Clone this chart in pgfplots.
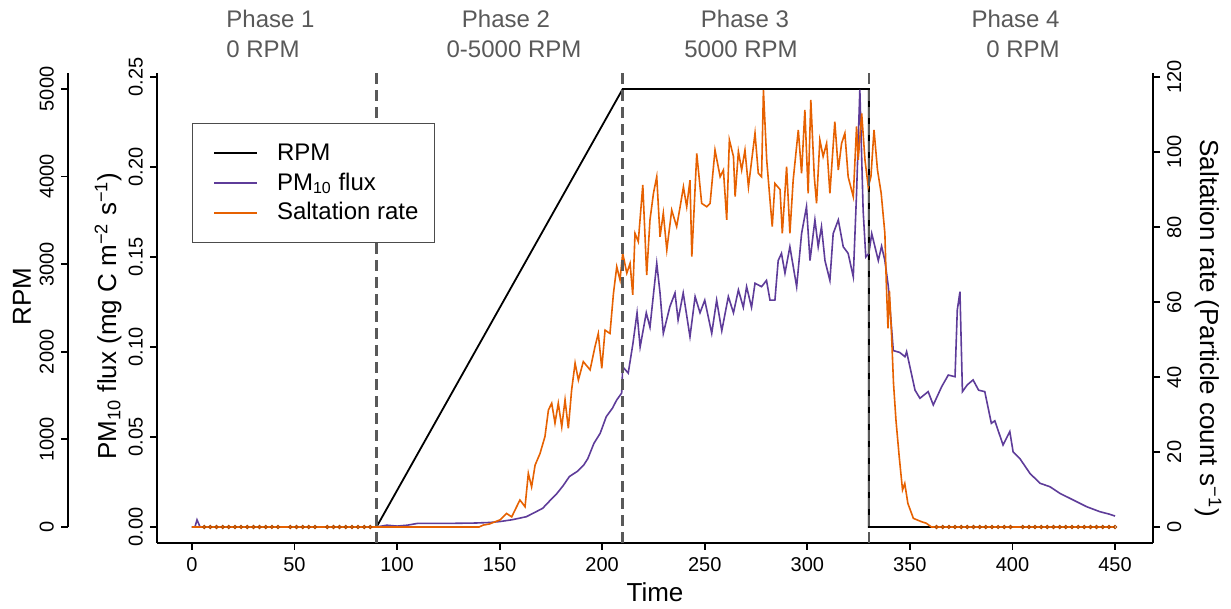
\documentclass[border=0pt]{standalone}
\usepackage{fontspec}
\setmainfont{Liberation Sans}
\usepackage{pgfplots}
\pgfplotsset{compat=1.18}

\definecolor{pmc}{HTML}{5E3C99}
\definecolor{slc}{HTML}{E66101}
\definecolor{phc}{HTML}{595959}

\newcommand{\lblfont}{\fontsize{13}{15}\selectfont}
\newcommand{\tckfont}{\fontsize{10}{12}\selectfont}

% shared frame: 1px of the reference = 0.5pt
\pgfplotsset{
  base/.style={
    scale only axis, width=498pt, height=235pt,
    at={(78.5pt,33pt)}, anchor=south west,
    xmin=-17, xmax=468.5,
    tick align=outside, major tick length=3.5pt,
    axis line style={line width=0.9pt},
    every tick/.style={black, line width=0.9pt},
    tick label style={font=\tckfont},
    /pgf/number format/assume math mode=true,
  },
}

\begin{document}
\begin{tikzpicture}
\useasboundingbox (0,0) rectangle (615.5pt,304.5pt);

% RPM scale, offset to the far left
\begin{axis}[
  scale only axis, width=1pt, height=227pt,
  at={(34pt,41pt)}, anchor=south west,
  xmin=0, xmax=1, ymin=0, ymax=5182.6,
  hide x axis, axis y line*=left,
  tick align=outside, major tick length=3.5pt,
  axis line style={line width=0.9pt},
  every tick/.style={black, line width=0.9pt},
  ytick={0,1000,2000,3000,4000,5000},
  yticklabel style={font=\tckfont, rotate=90, anchor=south,
    /pgf/number format/1000 sep={}},
  /pgf/number format/assume math mode=true,
  every axis y label/.style={at={(rel axis cs:0,0.507)}, xshift=-23pt,
    rotate=90, anchor=center, font=\lblfont},
  ylabel={RPM},
]
\end{axis}

% RPM trace
\begin{axis}[base, hide x axis, hide y axis, ymin=-182.6, ymax=5182.6]
\addplot[black, line width=0.9pt] coordinates {
(0,0) (90,0) (210,5000) (330,5000) (330,0) (450,0)};
\end{axis}

% PM10 flux
\begin{axis}[base,
  axis x line*=bottom, axis y line*=left,
  ymin=-0.00889, ymax=0.25222,
  xtick={0,50,100,150,200,250,300,350,400,450},
  ytick={0,0.05,0.1,0.15,0.2,0.25},
  yticklabel style={/pgf/number format/fixed, /pgf/number format/fixed zerofill,
    /pgf/number format/precision=2, rotate=90, anchor=south},
  every axis x label/.style={at={(rel axis cs:0.5,-0.104)}, anchor=center, font=\lblfont},
  every axis y label/.style={at={(rel axis cs:-0.0492,0.483)}, rotate=90,
    anchor=center, font=\lblfont},
  xlabel={Time},
  ylabel={PM\textsubscript{10} flux (mg C m\textsuperscript{−2} s\textsuperscript{−1})},
]
\addplot[pmc, line width=0.8pt] coordinates {
(0,0) (1.5,0) (2.5,0.004) (4,0) (90,0) (95,0.001) (100,0.0005) (105,0.001)
(110,0.002) (125,0.002) (138,0.0022) (145,0.0025) (150,0.003) (156,0.004)
(163,0.0057) (167,0.008) (171,0.0104) (174,0.014) (178,0.0187) (181,0.023)
(184,0.028) (188,0.031) (191,0.0344) (193,0.038) (196,0.0465) (199,0.052)
(202,0.0613) (205,0.066) (207,0.0704) (209.5,0.0744) (210,0.089) (212.7,0.0855)
(215,0.102) (217,0.119) (218.5,0.100) (221.5,0.119) (223.3,0.111) (226.6,0.1465)
(228.2,0.13) (229.8,0.1076) (233,0.1224) (235.5,0.13) (237,0.115) (239.5,0.13)
(242.8,0.1057) (245.3,0.128) (247.7,0.119) (250,0.126) (253.4,0.1076)
(255.8,0.126) (258.3,0.109) (261.5,0.128) (264,0.119) (266.4,0.1317)
(268.8,0.122) (270.4,0.1335) (272.8,0.122) (274.5,0.1354) (277.7,0.1335)
(280.1,0.137) (281.8,0.126) (284.2,0.126) (285.8,0.148) (287.4,0.152)
(289.1,0.141) (291.5,0.1557) (294.8,0.1335) (297.2,0.163) (299.6,0.178)
(301.3,0.148) (303.7,0.1706) (305.3,0.1557) (306.9,0.1668) (308.6,0.148)
(311,0.137) (312.6,0.163) (315.1,0.1706) (317.5,0.1557) (319.9,0.152)
(322.4,0.139) (324,0.1855) (325.6,0.243) (327.2,0.176) (328.5,0.150)
(330,0.152) (331.4,0.163) (334.6,0.148) (336.2,0.156) (337.8,0.148)
(339.5,0.1335) (341.9,0.098) (345,0.097) (347.6,0.0946) (348.4,0.0974)
(352.5,0.076) (354.9,0.0715) (358.9,0.0752) (361.4,0.0678) (365.5,0.078)
(368.7,0.0844) (372,0.0835) (373.1,0.1206) (374.4,0.1307) (375.6,0.0752)
(378,0.079) (380.8,0.0817) (383.5,0.076) (386.5,0.0752) (389.7,0.0576)
(391.4,0.059) (395.4,0.0456) (398.7,0.053) (400.3,0.0418) (403.6,0.038)
(408.5,0.0298) (413.4,0.0243) (418.2,0.0224) (423.1,0.0187) (429.6,0.015)
(436.1,0.0113) (442.6,0.0085) (447,0.0072) (450,0.0061)};
\end{axis}

% saltation rate, phase boundaries and the legend (drawn last)
\begin{axis}[base,
  axis x line=none, axis y line*=right,
  ymin=-4.267, ymax=121.07,
  ytick={0,20,40,60,80,100,120},
  yticklabel style={rotate=90, anchor=north},
  every axis y label/.style={at={(rel axis cs:1.0552,0.457)}, rotate=-90,
    anchor=center, font=\lblfont},
  ylabel={Saltation rate (Particle count s\textsuperscript{−1})},
  legend cell align=left,
  legend style={at={(rel axis cs:0.0351,0.8936)}, anchor=north west,
    draw=black!70, line width=0.6pt, fill=white,
    inner xsep=6pt, inner ysep=8pt, row sep=0.75pt,
    font=\fontsize{12}{14}\selectfont,
    /tikz/every odd column/.append style={column sep=7.5pt},
    /tikz/every even column/.append style={inner xsep=0pt}},
  legend image code/.code={\path (0pt,0pt); \draw[#1, line width=0.9pt] (4.5pt,0pt) -- (26pt,0pt);},
]
\addlegendimage{black}\addlegendentry{RPM}
\addlegendimage{pmc}\addlegendentry{PM\textsubscript{10} flux}
\addlegendimage{slc}\addlegendentry{Saltation rate}

\addplot[slc, line width=0.8pt, forget plot] coordinates {
(0,0) (90,0) (140,0) (142,0.5) (145,0.8) (150.2,1.9) (153.4,3.6) (155.9,2.7)
(159.9,7.2) (162.4,5.4) (164,14.3) (165.6,10.7) (167.3,16.5) (169.7,19.6)
(172.1,24.1) (173.8,31.2) (175.4,33) (177,27.7) (178.6,33) (180.3,26.7)
(181.9,33.9) (183.5,26.3) (185.1,36.5) (186.8,43.7) (188.4,39.2) (190.8,44.1)
(194.1,41.9) (196.5,48.1) (198.1,51.6) (199.8,42.3) (201.4,52.5) (203.8,51.6)
(205.5,62.3) (207.1,69.4) (208.7,65.9) (210,73) (212,67.7) (213.6,70.3)
(214.9,61.9) (216,78.3) (217.6,76.1) (219.8,91.2) (221.7,67.2) (223.3,81.9)
(225,89) (226.6,93.4) (228.2,77.4) (229.8,83.7) (231.5,73.9) (233.9,84.5)
(236.3,80.1) (238,85.4) (239.6,90.7) (241.2,85.4) (242.8,92.5) (243.7,72.1)
(246.1,99.6) (248.5,86.3) (251,85.4) (252.6,86.3) (255,100.5) (257.5,93.4)
(259.1,95.2) (260.7,81.9) (262,103.2) (264,98.8) (264.8,88.1) (266.4,100.1)
(268,95.2) (269.6,100.5) (271.3,90.7) (272.9,97.9) (274.5,105) (276.1,94.3)
(277.7,93.4) (278.6,116.5) (280.2,97.9) (281.8,87.2) (282.9,80.1) (284.2,91.6)
(286.7,90) (287.8,78.3) (289.9,96.1) (291.5,78.3) (293.1,92.5) (295.6,105.9)
(297.2,94.3) (298.8,111.2) (300.4,89) (301.7,113.9) (303.4,93.4) (304.5,86.3)
(306.1,103.2) (307.7,98.8) (309.4,102.3) (311,89) (313.4,108.1) (315.1,95.2)
(316.7,102.3) (318.3,105) (319.9,93.4) (322.4,88.1) (324,106.8) (324.8,97.9)
(326.5,110.3) (328.1,97.9) (329.7,90.7) (331,93.4) (332.5,105.9) (334.2,95.2)
(336,89) (337.8,78.3) (338.5,65) (339.3,53) (340,63) (341,52) (342,38.4)
(343.2,28.5) (344.8,18.7) (346.4,9.9) (347.5,11.6) (349,6.3) (351.7,2.3)
(355.7,1.4) (358,1.0) (360.5,0) (450,0)};
\addplot[only marks, mark=o, mark size=0.9pt, slc!75!black,
  mark options={line width=0.4pt}, forget plot] coordinates {
(6,0) (9,0) (12,0) (15,0) (18,0) (21,0) (24,0) (27,0) (30,0) (33,0) (36,0)
(39,0) (42,0) (48,0) (51,0) (54,0) (57,0) (60,0) (66,0) (69,0) (72,0) (75,0)
(78,0) (81,0) (84,0) (87,0)
(363,0) (366,0) (369,0) (372,0) (375,0) (378,0) (381,0) (384,0) (387,0)
(390,0) (393,0) (396,0) (399,0) (405,0) (408,0) (411,0) (414,0) (417,0)
(420,0) (423,0) (426,0) (429,0) (432,0) (435,0) (438,0) (441,0) (444,0)
(447,0) (450,0)};
% phase boundaries
\addplot[phc, line width=1.2pt, dash pattern=on 5.5pt off 3pt, forget plot]
  coordinates {(90,-4.267) (90,121.07)};
\addplot[phc, line width=1.2pt, dash pattern=on 5.5pt off 3pt, forget plot]
  coordinates {(210,-4.267) (210,121.07)};
\addplot[phc, line width=1.2pt, dash pattern=on 5.5pt off 3pt, forget plot]
  coordinates {(330,-4.267) (330,121.07)};
\end{axis}

% phase headings
\begin{scope}[every node/.style={inner sep=0pt, text=phc, font=\fontsize{12}{14}\selectfont}]
\node[anchor=base west] at (113pt,290.5pt) {Phase 1};
\node[anchor=base west] at (113pt,275.5pt) {0 RPM};
\node[anchor=base] at (253pt,290.5pt) {Phase 2};
\node[anchor=base] at (257pt,275.5pt) {0-5000 RPM};
\node[anchor=base] at (372.5pt,290.5pt) {Phase 3};
\node[anchor=base] at (370.5pt,275.5pt) {5000 RPM};
\node[anchor=base east] at (530pt,290.5pt) {Phase 4};
\node[anchor=base east] at (530pt,275.5pt) {0 RPM};
\end{scope}
\end{tikzpicture}
\end{document}
